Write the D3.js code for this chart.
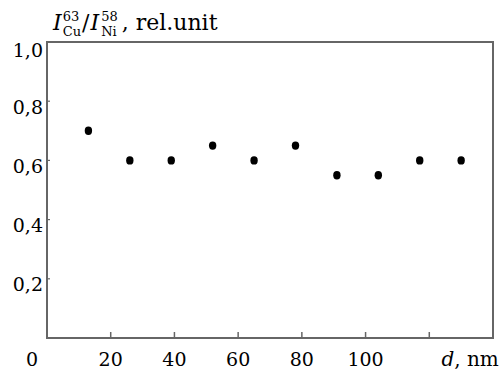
<!DOCTYPE html>
<html>
<head>
<meta charset="utf-8">
<script src="https://cdn.jsdelivr.net/npm/d3@7"></script>
<style>
  body { margin: 0; background: #fff; }
</style>
</head>
<body>
<svg id="chart" width="502" height="370"></svg>
<script>
// data
const thickness = [13, 26, 39, 52, 65, 78, 91, 104, 117, 130];
const ratio = [0.70, 0.60, 0.60, 0.65, 0.60, 0.65, 0.55, 0.55, 0.60, 0.60];
const xTicks = [20, 40, 60, 80, 100, 120];
const xTickLabels = ['20', '40', '60', '80', '100', ''];
const yTicks = [0.2, 0.4, 0.6, 0.8, 1.0];

const font = '"DejaVu Serif", "Liberation Serif", serif';
const margin = { top: 42, right: 9, bottom: 32, left: 47 };
const width = 502 - margin.left - margin.right;
const height = 370 - margin.top - margin.bottom;

const svg = d3.select('#chart')
  .attr('font-family', font)
  .style('font-family', font);
const g = svg.append('g')
  .attr('transform', `translate(${margin.left},${margin.top})`);

const x = d3.scaleLinear().domain([0, 140]).range([0, width]);
const y = d3.scaleLinear().domain([0, 1]).range([height, 0]);

const axisColor = '#666';

// x ticks (inward)
g.selectAll('.xtick')
  .data(xTicks)
  .enter().append('line')
  .attr('x1', d => x(d)).attr('x2', d => x(d))
  .attr('y1', height).attr('y2', height - 6)
  .attr('stroke', axisColor).attr('stroke-width', 1.5);

// y ticks (inward)
g.selectAll('.ytick')
  .data(yTicks.filter(d => d < 1))
  .enter().append('line')
  .attr('x1', 0).attr('x2', 3)
  .attr('y1', d => y(d)).attr('y2', d => y(d))
  .attr('stroke', axisColor).attr('stroke-width', 1.2);

// frame
g.append('rect')
  .attr('x', 0).attr('y', 0)
  .attr('width', width).attr('height', height)
  .attr('fill', 'none')
  .attr('stroke', axisColor)
  .attr('stroke-width', 2);

// x labels
g.selectAll('.xlab')
  .data(xTicks)
  .enter().append('text')
  .attr('x', d => x(d))
  .attr('y', height + 28)
  .attr('text-anchor', 'middle')
  .style('font-size', '19px')
  .text((d, i) => xTickLabels[i]);

g.append('text')
  .attr('x', x(0) - 15)
  .attr('y', height + 28)
  .attr('text-anchor', 'middle')
  .style('font-size', '19px')
  .text('0');

const xTitle = g.append('text')
  .attr('x', x(123.8))
  .attr('y', height + 28)
  .style('font-size', '20px');
xTitle.append('tspan').style('font-style', 'italic').text('d');
xTitle.append('tspan').text(', nm');

// y labels
g.selectAll('.ylab')
  .data(yTicks)
  .enter().append('text')
  .attr('x', -4)
  .attr('y', d => y(d) + (d === 1 ? 15 : 12.5))
  .attr('text-anchor', 'end')
  .style('font-size', '19px')
  .text(d => d3.format('.1f')(d).replace('.', ','));

// y title, built piece by piece so the scripts stack
const base = 30;
let cx = 53;
function piece(txt, size, dy, italic) {
  const t = svg.append('text')
    .attr('x', cx).attr('y', base + dy)
    .style('font-size', size + 'px')
    .style('font-style', italic ? 'italic' : 'normal')
    .text(txt);
  return t.node().getComputedTextLength();
}
function stacked(sup, sub) {
  const w1 = piece(sup, 13, -9.5, false);
  const w2 = piece(sub, 13, 6, false);
  cx += Math.max(w1, w2) + 1;
}
cx += piece('I', 22, 0, true) + 1;
stacked('63', 'Cu');
cx += piece('/', 22, 0, false) + 1;
cx += piece('I', 22, 0, true) + 2;
stacked('58', 'Ni');
cx += 3;
piece(', rel.unit', 22, 0, false);

// points
g.selectAll('.pt')
  .data(thickness)
  .enter().append('ellipse')
  .attr('cx', d => x(d))
  .attr('cy', (d, i) => y(ratio[i]))
  .attr('rx', 3.7)
  .attr('ry', 4.2)
  .attr('fill', '#000');
</script>
</body>
</html>
